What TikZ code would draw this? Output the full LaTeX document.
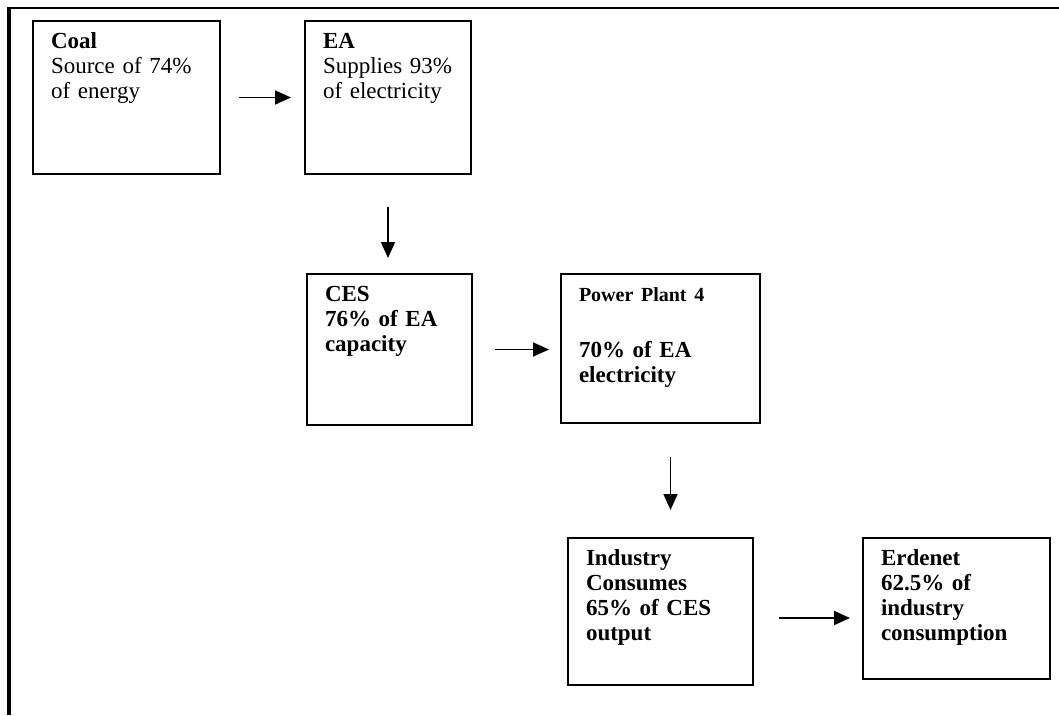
\documentclass[tikz,border=0pt]{standalone}
\usepackage{fontspec}
\setmainfont{Liberation Serif}
\usetikzlibrary{arrows.meta}
\tikzstyle{diagElt}=[draw, line width=2pt, anchor=north west, align=left,
  inner xsep=18pt, inner ysep=0pt, text height=27pt,
  font=\fontsize{23}{25}\selectfont]
\tikzstyle{line} = [draw, line width=1.8pt, -{Triangle[length=16pt,width=14pt]}]
\tikzstyle{frame} = [draw, line width=3.5pt]
\newcommand{\diagElt}[5]{node (p#1) [diagElt, text width=#2, text depth=#3]
  {\textbf{#4}\\#5}}

\begin{document}
\begin{tikzpicture}[x=1pt,y=-1pt]
  \useasboundingbox (0,0) rectangle (1059,715);

  % Frame round the figure
  \path[frame] (9,715) -- (9,6.5);
  \path[frame, line width=2pt] (7.5,7.5) -- (1059,7.5);

  % Draw diagram elements
  \path (32,20) \diagElt{1}{151pt}{126pt}{Coal}{Source of 74\%\\of energy};
  \path (p1.north east)+(83,0) \diagElt{2}{130pt}{126pt}{EA}{Supplies 93\%\\of electricity};
  \path (p2.south west)+(2,98) \diagElt{3}{129pt}{124pt}{CES}{\bfseries 76\% of EA\\capacity};
  \path (p3.north east)+(87,0) \diagElt{4}{163pt}{122pt}{\fontsize{20}{25}\selectfont Power Plant 4}
    {\mbox{}\\[6pt]\bfseries 70\% of EA\\electricity};
  \path (p4.south west)+(7,113) \diagElt{5}{149pt}{120pt}{Industry}{\bfseries Consumes\\65\% of CES\\output};
  \path (p5.north east)+(108,0) \diagElt{6}{151pt}{114pt}{Erdenet}{\bfseries 62.5\% of\\industry\\consumption};

  % Draw arrows between elements
  \path [line, shorten <=18pt, shorten >=13pt] (p1) -- (p2);
  \path [line, shorten <=32pt, shorten >=15pt] (p2.south) -- (p2.south |- p3.north);
  \path [line, shorten <=22pt, shorten >=11pt] (p3.east) -- (p3.east -| p4.west);
  \path [line, shorten <=33pt, shorten >=27pt] ([xshift=10pt]p4.south) -- ([xshift=10pt]p4.south |- p5.north);
  \path [line, shorten <=25pt, shorten >=12pt] ([yshift=-6.5pt]p5.east) -- ([yshift=-6.5pt]p5.east -| p6.west);
\end{tikzpicture}
\end{document}
